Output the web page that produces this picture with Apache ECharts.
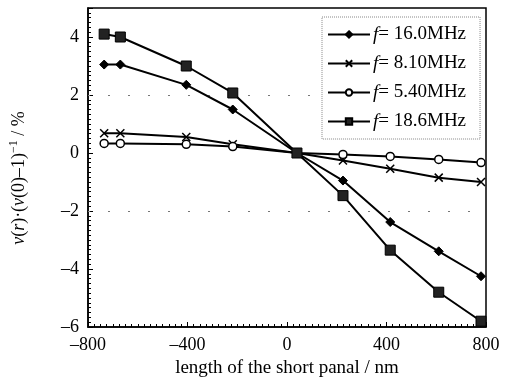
<!DOCTYPE html>
<html><head><meta charset="utf-8">
<script src="https://cdn.jsdelivr.net/npm/echarts@6/dist/echarts.min.js"></script>
<style>html,body{margin:0;padding:0;background:#fff}#c{width:505px;height:382px}</style>
</head><body><div id="c"></div>
<script>
var xs = [-735, -670, -405, -218, 40, 225, 415, 610, 780];
var f160 = [3.05, 3.05, 2.35, 1.5, 0, -0.95, -2.38, -3.39, -4.25];
var f810 = [0.68, 0.68, 0.55, 0.3, 0, -0.26, -0.54, -0.85, -1.0];
var f540 = [0.33, 0.33, 0.3, 0.22, 0, -0.05, -0.12, -0.22, -0.33];
var f186 = [4.1, 4.0, 3.0, 2.07, 0, -1.47, -3.35, -4.8, -5.8];
var names = ['16.0MHz', '8.10MHz', '5.40MHz', '18.6MHz'];
var yTicksDotted = [2, -2];

function pairs(v){ return xs.map(function(x,i){ return [x, v[i]]; }); }
var font = '"Liberation Serif", "DejaVu Serif", serif';
function minus(v){ return String(v).replace('-', '\u2013'); }

var common = {type:'line', lineStyle:{color:'#000', width:2}, z:3};
var chart = echarts.init(document.getElementById('c'));
chart.setOption({
  animation:false,
  backgroundColor:'#fff',
  grid:{left:88, right:19, top:8, bottom:55, show:true, borderColor:'#000', borderWidth:1.5,
        containLabel:false, outerBoundsMode:'none'},
  legend:{
    orient:'vertical', left:322, top:17, z:6,
    itemWidth:42, itemHeight:8, itemGap:10,
    padding:[8,14,8,5],
    borderColor:'#888', borderWidth:1, borderType:'dotted',
    backgroundColor:'#fff',
    data:names,
    textStyle:{fontFamily:font, fontSize:19, color:'#000', padding:[0,0,0,-2],
      rich:{i:{fontFamily:font, fontStyle:'italic', fontSize:19, color:'#000'}}},
    formatter:function(n){ return '{i|f}= ' + n; }
  },
  graphic:[{
    type:'text', x:19, y:178, rotation:Math.PI/2, z:10,
    style:{
      text:'{i|v}({i|r})\u00b7({i|v}(0)\u20131){s|\u22121} / %',
      fontFamily:font, fontSize:18, fill:'#000',
      align:'center', verticalAlign:'middle',
      rich:{
        i:{fontFamily:font, fontStyle:'italic', fontSize:18, fill:'#000'},
        s:{fontFamily:font, fontSize:12, fill:'#000', verticalAlign:'top', padding:[0,0,10,0]}
      }
    }
  }],
  xAxis:{
    type:'value', min:-800, max:800, interval:400,
    name:'length of the short panal / nm', nameLocation:'middle', nameGap:31,
    nameTextStyle:{fontFamily:font, fontSize:19, color:'#000'},
    axisLine:{onZero:false, lineStyle:{color:'#000', width:1.5}},
    axisTick:{inside:true, length:5, lineStyle:{color:'#000'}},
    minorTick:{show:true, splitNumber:16, length:3, lineStyle:{color:'#000'}},
    splitLine:{show:false},
    axisLabel:{fontFamily:font, fontSize:18, color:'#000', margin:9, formatter:minus}
  },
  yAxis:{
    type:'value', min:-6, max:5, interval:2,
    axisLine:{onZero:false, lineStyle:{color:'#000', width:1.5}},
    axisTick:{inside:true, length:5, lineStyle:{color:'#000'}},
    minorTick:{show:true, splitNumber:12, length:3, lineStyle:{color:'#000'}},
    splitLine:{show:false},
    axisLabel:{fontFamily:font, fontSize:18, color:'#000', margin:9, showMaxLabel:false, formatter:minus}
  },
  series:[
    Object.assign({}, common, {name:names[0], data:pairs(f160), symbol:'diamond', symbolSize:9,
      itemStyle:{color:'#000', borderColor:'#000', borderWidth:1},
      markLine:{silent:true, symbol:'none', label:{show:false}, z:1,
        lineStyle:{color:'#777', width:1, type:[2,18]},
        data:yTicksDotted.map(function(v){return {yAxis:v};})}}),
    Object.assign({}, common, {name:names[1], data:pairs(f810), symbol:'path://M0,0L10,10M10,0L0,10', symbolSize:8,
      itemStyle:{color:'#000', borderColor:'#000', borderWidth:1.5}}),
    Object.assign({}, common, {name:names[2], data:pairs(f540), symbol:'circle', symbolSize:8,
      itemStyle:{color:'#fff', borderColor:'#000', borderWidth:1.5}}),
    Object.assign({}, common, {name:names[3], data:pairs(f186), symbol:'rect', symbolSize:10,
      itemStyle:{color:'#222', borderColor:'#000', borderWidth:1}})
  ]
});
</script></body></html>
